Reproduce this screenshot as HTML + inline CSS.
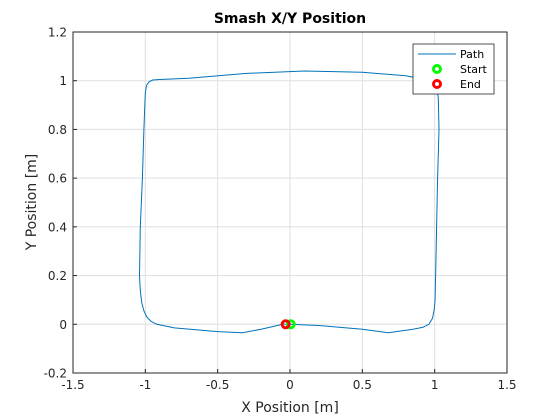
<!DOCTYPE html>
<html><head><meta charset="utf-8"><style>
body{margin:0;background:#fff;}
svg{display:block;font-family:"DejaVu Sans","Liberation Sans",sans-serif;}
</style></head><body>
<svg width="560" height="420" viewBox="0 0 560 420">
<rect width="560" height="420" fill="#fff"/>
<g id="grid"></g>
<g id="plot"></g>
<rect x="73" y="32" width="434" height="341" fill="none" stroke="#262626" stroke-width="1"/>
<g id="ticks"></g>
<text x="290" y="23" text-anchor="middle" font-size="14" font-weight="bold" fill="#000">Smash X/Y Position</text>
<text x="290" y="412" text-anchor="middle" font-size="14" fill="#262626">X Position [m]</text>
<text x="36" y="202" text-anchor="middle" font-size="14" fill="#262626" transform="rotate(-90 36 202)">Y Position [m]</text>
<g>
<rect x="413" y="44" width="81" height="50" fill="#fff" stroke="#262626" stroke-width="0.8"/>
<line x1="418" y1="54" x2="456" y2="54" stroke="#0072bd" stroke-width="1"/>
<text x="460" y="58" font-size="11" fill="#000">Path</text>
<circle cx="437" cy="69" r="3.5" fill="none" stroke="#00ff00" stroke-width="3"/>
<text x="460" y="73" font-size="11" fill="#000">Start</text>
<circle cx="437" cy="84" r="3.5" fill="none" stroke="#ff0000" stroke-width="3"/>
<text x="460" y="88" font-size="11" fill="#000">End</text>
</g>
</svg>
<script>
const xTicks=[-1.5,-1,-0.5,0,0.5,1,1.5];
const xTickLabels=["-1.5","-1","-0.5","0","0.5","1","1.5"];
const yTicks=[-0.2,0,0.2,0.4,0.6,0.8,1,1.2];
const yTickLabels=["-0.2","0","0.2","0.4","0.6","0.8","1","1.2"];
const pathX=[0,0.2,0.5,0.68,0.85,0.92,0.96,0.985,0.997,1.003,1.01,1.02,1.03,1.025,1.015,1.0,0.975,0.8,0.5,0.1,-0.3,-0.7,-0.9,-0.95,-0.975,-0.992,-1.0,-1.01,-1.02,-1.035,-1.04,-1.035,-1.025,-1.01,-0.99,-0.96,-0.92,-0.8,-0.5,-0.33,-0.2,-0.05,-0.03];
const pathY=[0,-0.005,-0.02,-0.035,-0.02,-0.012,0.0,0.025,0.06,0.1,0.3,0.6,0.8,0.93,0.97,0.99,1.0,1.02,1.035,1.04,1.03,1.01,1.005,1.003,0.995,0.98,0.95,0.8,0.6,0.4,0.2,0.14,0.09,0.055,0.03,0.012,0.0,-0.015,-0.03,-0.035,-0.02,0,0];
const startPt=[0.005,0];
const endPt=[-0.03,0];
const L=73,R=507,T=32,B=373;
const sx=v=>L+(v+1.5)/3*(R-L);
const sy=v=>B-(v+0.2)/1.4*(B-T);
const NS="http://www.w3.org/2000/svg";
function mk(t,a,p){const e=document.createElementNS(NS,t);for(const k in a)e.setAttribute(k,a[k]);p.appendChild(e);return e;}
const grid=document.getElementById('grid'),ticks=document.getElementById('ticks'),plot=document.getElementById('plot');
xTicks.forEach((v,i)=>{const x=sx(v);
 let g=mk('line',{x1:x,x2:x,y1:T,y2:B,stroke:'#dfdfdf','stroke-width':1},grid);
 
 
 let t=mk('line',{x1:x,x2:x,y1:B,y2:B-4,stroke:'#262626'},ticks);
 
 
 let tx=mk('text',{x:x,y:B+16,'text-anchor':'middle','font-size':12,fill:'#262626'},ticks);tx.textContent=xTickLabels[i];
 
 
});
yTicks.forEach((v,i)=>{const y=sy(v);
 let g=mk('line',{x1:L,x2:R,y1:y,y2:y,stroke:'#dfdfdf','stroke-width':1},grid);
 
 
 let t=mk('line',{x1:L,x2:L+4,y1:y,y2:y,stroke:'#262626'},ticks);
 
 
 let tx=mk('text',{x:L-6,y:y+4.5,'text-anchor':'end','font-size':12,fill:'#262626'},ticks);tx.textContent=yTickLabels[i];
 
 
});
const pts=pathX.map((x,i)=>sx(x).toFixed(1)+','+sy(pathY[i]).toFixed(1)).join(' ');
const pl=mk('polyline',{points:pts,fill:'none',stroke:'#0072bd','stroke-width':1,'stroke-linejoin':'round'},plot);


const s=mk('circle',{cx:sx(startPt[0]),cy:sy(startPt[1]),r:3.5,fill:'none',stroke:'#00ff00','stroke-width':3},plot);


const e=mk('circle',{cx:sx(endPt[0]),cy:sy(endPt[1]),r:3.5,fill:'none',stroke:'#ff0000','stroke-width':3},plot);


</script>
</body></html>
